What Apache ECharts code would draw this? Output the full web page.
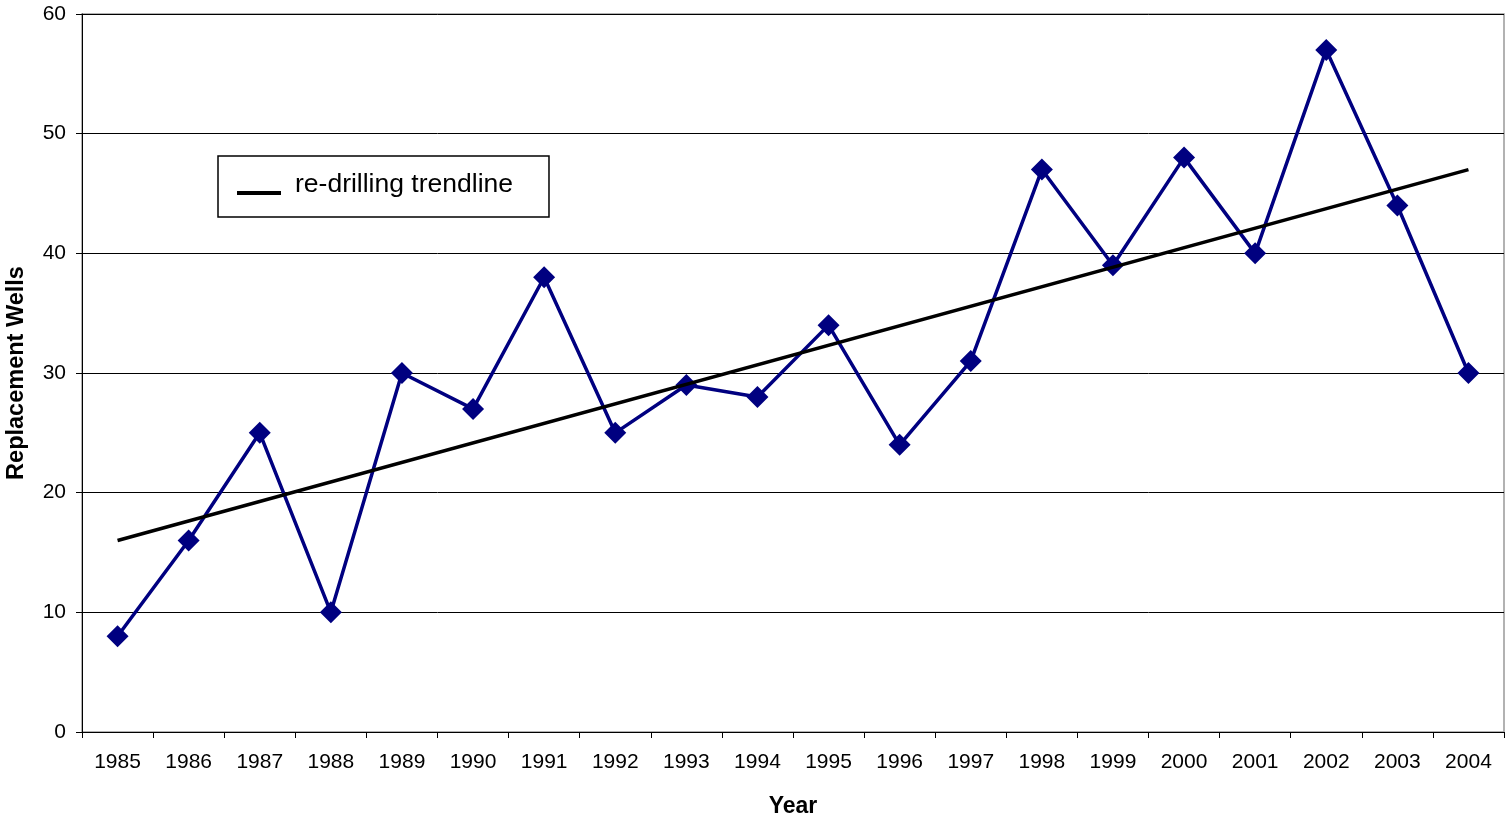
<!DOCTYPE html>
<html>
<head>
<meta charset="utf-8">
<script src="https://cdn.jsdelivr.net/npm/echarts@6/dist/echarts.min.js"></script>
<style>html,body{margin:0;padding:0;background:#fff;}#c{width:1506px;height:819px;}</style>
</head>
<body>
<div id="c"></div>
<script>
var years = ['1985','1986','1987','1988','1989','1990','1991','1992','1993','1994','1995','1996','1997','1998','1999','2000','2001','2002','2003','2004'];
var replacementWells = [8,16,25,10,30,27,38,25,29,28,34,24,31,47,39,48,40,57,44,30];
// trendline endpoints (1985 and 2004)
var trendStart = 16;
var trendEnd = 47;
var yTicks = [0,10,20,30,40,50,60];

var trendData = years.map(function (y, i) {
  if (i === 0) return trendStart;
  if (i === years.length - 1) return trendEnd;
  return null;
});

var chart = echarts.init(document.getElementById('c'));
var font = '"Liberation Sans", Arial, sans-serif';
chart.setOption({
  animation: false,
  backgroundColor: '#fff',
  grid: { left: 82, right: 2, top: 14, bottom: 87, show: true, borderColor: '#999', borderWidth: 1.5, containLabel: false, outerBoundsMode: 'none' },
  legend: {
    data: [{ name: 're-drilling trendline', icon: 'path://M0,0L0.01,0M0,16L44,16L44,20L0,20Z' }],
    left: 218, top: 156,
    orient: 'vertical',
    padding: [14, 36, 17, 19],
    borderColor: '#000', borderWidth: 1.5,
    itemWidth: 44, itemHeight: 20,
    itemStyle: { color: '#000', borderWidth: 0 },
    textStyle: { fontFamily: font, fontSize: 26.5, lineHeight: 30, color: '#000', padding: [0, 0, 0, 9] },
    selectedMode: false
  },
  xAxis: {
    type: 'category',
    data: years,
    boundaryGap: true,
    name: 'Year',
    nameLocation: 'middle',
    nameGap: 63,
    nameTextStyle: { fontFamily: font, fontSize: 23, fontWeight: 'bold', color: '#000' },
    axisLine: { show: true, lineStyle: { color: '#000', width: 1 } },
    axisTick: { show: true, interval: 0, length: 6, alignWithLabel: false, lineStyle: { color: '#000' } },
    axisLabel: { interval: 0, margin: 20, fontFamily: font, fontSize: 21, color: '#000' },
    splitLine: { show: false }
  },
  yAxis: {
    type: 'value',
    min: yTicks[0], max: yTicks[yTicks.length - 1], interval: 10,
    name: 'Replacement Wells',
    nameLocation: 'middle',
    nameRotate: 90,
    nameGap: 53,
    nameTextStyle: { fontFamily: font, fontSize: 23.5, fontWeight: 'bold', color: '#000' },
    axisLine: { show: true, lineStyle: { color: '#000', width: 1 } },
    axisTick: { show: true, length: 6, lineStyle: { color: '#000' } },
    axisLabel: { margin: 16, fontFamily: font, fontSize: 21, color: '#000' },
    splitLine: { show: true, lineStyle: { color: '#000', width: 1 } }
  },
  series: [
    {
      name: 'Replacement Wells',
      type: 'line',
      data: replacementWells,
      symbol: 'diamond',
      symbolSize: 22,
      lineStyle: { color: '#000080', width: 3.5 },
      itemStyle: { color: '#000080' },
      z: 3
    },
    {
      name: 're-drilling trendline',
      type: 'line',
      data: trendData,
      connectNulls: true,
      symbol: 'none',
      showSymbol: false,
      lineStyle: { color: '#000', width: 3.5 },
      itemStyle: { color: '#000' },
      z: 4
    }
  ]
});
</script>
</body>
</html>
